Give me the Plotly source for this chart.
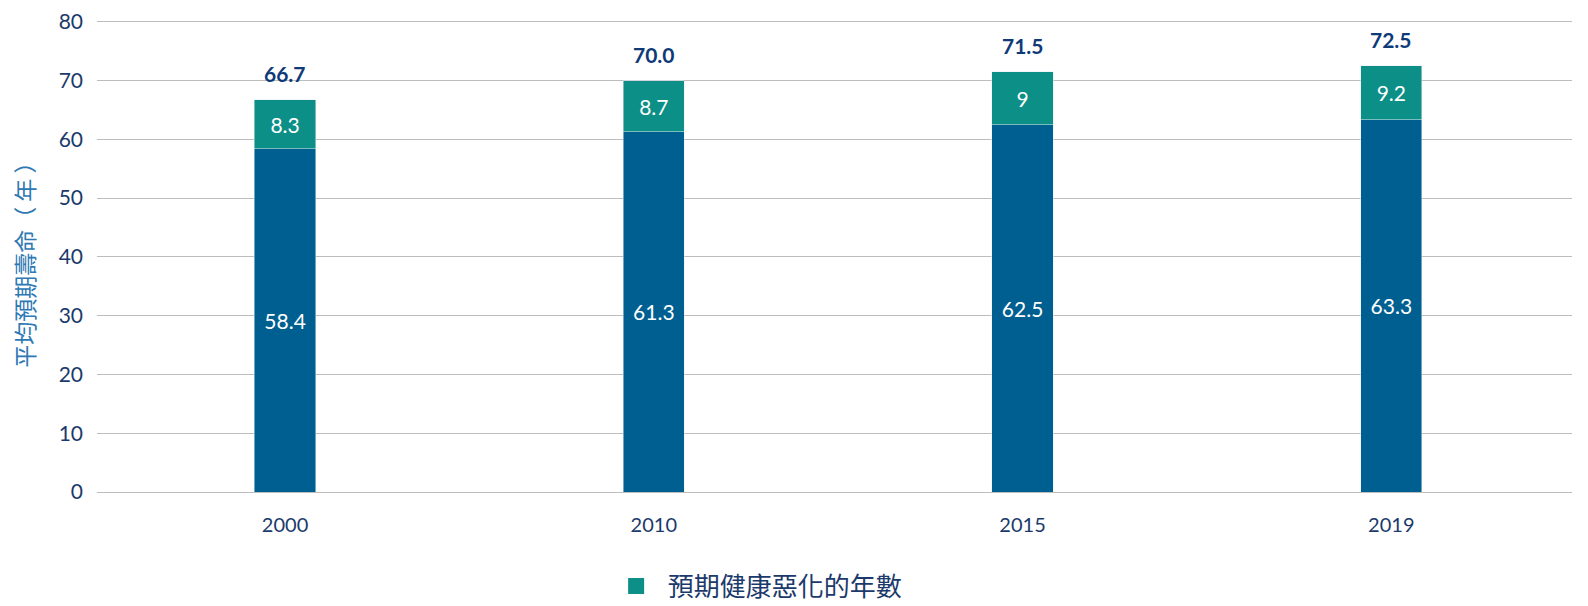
import plotly.graph_objects as go

years = ["2000", "2010", "2015", "2019"]
healthy = [58.4, 61.3, 62.5, 63.3]
ill_health = [8.3, 8.7, 9, 9.2]
totals = [66.7, 70.0, 71.5, 72.5]
ill_labels = ["8.3", "8.7", "9", "9.2"]
total_labels = ["66.7", "70.0", "71.5", "72.5"]
y_title = "平均預期壽命（ 年 ）"
legend_name = "預期健康惡化的年數"

FONT = "Lato, 'Noto Sans CJK TC', sans-serif"
CJK = "'Noto Sans CJK TC', sans-serif"
BLUE = "#005F91"
TEAL = "#0C8F86"
NAVY = "#1B3A6B"

# page body has an 8px default margin; size/margins compensate for it
W, H = 1580, 598

fig = go.Figure()
fig.add_trace(go.Bar(
    x=years, y=healthy, marker_color=BLUE, showlegend=False,
    text=[f"{v:.1f}" for v in healthy], textposition="inside",
    insidetextanchor="middle", textangle=0,
    textfont=dict(color="white", size=21, family=FONT),
    name="健康年數",
))
fig.add_trace(go.Bar(
    x=years, y=ill_health, marker_color=TEAL, showlegend=False,
    text=ill_labels, textposition="inside",
    insidetextanchor="middle", textangle=0,
    textfont=dict(color="white", size=21, family=FONT),
    name=legend_name,
))
# legend-only entry with a larger square swatch
fig.add_trace(go.Scatter(
    x=[None], y=[None], mode="markers", name="\u00a0\u00a0" + legend_name,
    marker=dict(symbol="square", size=16, color=TEAL), showlegend=True,
))

for i, (y, t) in enumerate(zip(totals, total_labels)):
    fig.add_annotation(x=i, y=y, xref="x", yref="y", text=f"<b>{t}</b>", showarrow=False,
                       yanchor="middle", yshift=26,
                       font=dict(color="#0E3A78", size=21, family=FONT))

# y-axis title as a rotated annotation
fig.add_annotation(x=-0.0495, y=0.494, xref="paper", yref="paper", text=y_title,
                   textangle=-90, showarrow=False, xanchor="center", yanchor="middle",
                   font=dict(size=23, color="#2E78B4", family=CJK))

fig.update_layout(
    width=W, height=H,
    barmode="stack", bargap=0.834,
    margin=dict(l=89, r=16, t=12, b=114),
    plot_bgcolor="white", paper_bgcolor="white",
    font=dict(family=FONT, color=NAVY, size=18),
    legend=dict(orientation="h", x=0.4506, xanchor="center", xref="paper",
                yref="container", y=1 - 578 / H, yanchor="middle",
                font=dict(size=26, color=NAVY, family=CJK), itemwidth=30),
    xaxis=dict(type="category", range=[-0.51, 3.49], showgrid=False, zeroline=False,
               showline=False, ticks="", ticklabelstandoff=19, automargin=False,
               tickfont=dict(size=20, color=NAVY)),
    yaxis=dict(range=[0, 80.3], tickvals=[0, 10, 20, 30, 40, 50, 60, 70, 80],
               showgrid=True, gridcolor="#BDBDBD", gridwidth=1,
               zeroline=True, zerolinecolor="#BDBDBD", zerolinewidth=1, automargin=False,
               ticks="", ticklabelstandoff=13, ticklabeloverflow="allow",
               tickfont=dict(size=21, color=NAVY)),
)

fig.write_html("out.html")
